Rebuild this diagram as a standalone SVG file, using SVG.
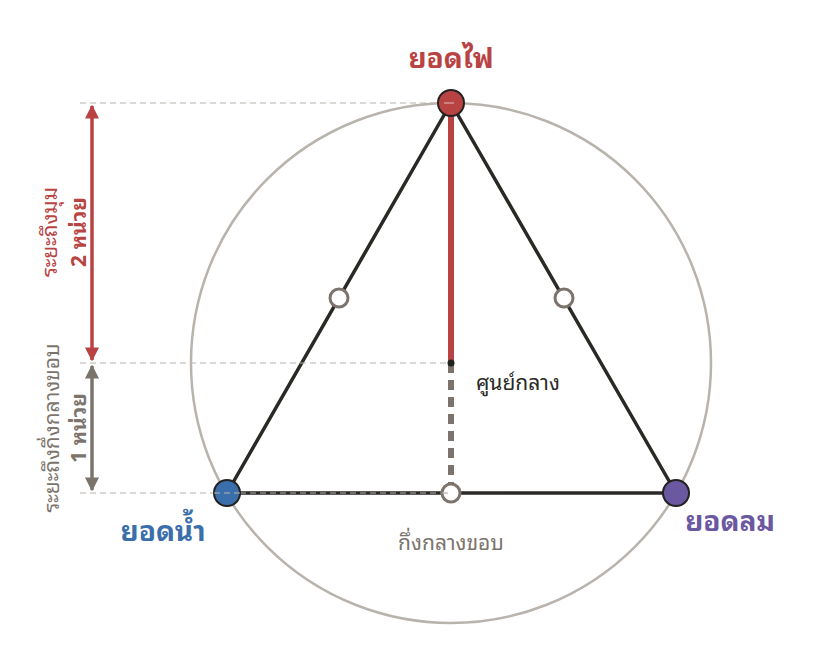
<svg xmlns="http://www.w3.org/2000/svg" width="813" height="655" viewBox="0 0 813 655">
<style>
text{font-family:"Noto Sans Thai Looped","Loma","Garuda","Noto Sans","DejaVu Sans",sans-serif}
.guide{stroke:#b8b3ad;stroke-width:1.2;stroke-dasharray:6 4;fill:none}
.edge{stroke:#2b2926;stroke-width:3.5;fill:none;stroke-linecap:round}
.mid{fill:#fff;stroke:#7c746c;stroke-width:3}
.vtx{stroke:#242220;stroke-width:2}
.lbl{font-weight:bold;font-size:28px;text-anchor:middle}
</style>
<defs>
<marker id="ar" viewBox="0 0 10 10" refX="9" refY="5" markerWidth="4" markerHeight="4" orient="auto-start-reverse"><path d="M0,0L10,5L0,10z" fill="#b94343"/></marker>
<marker id="ag" viewBox="0 0 10 10" refX="9" refY="5" markerWidth="4" markerHeight="4" orient="auto-start-reverse"><path d="M0,0L10,5L0,10z" fill="#7c746c"/></marker>
</defs>
<rect width="813" height="655" fill="#fff"/>
<g id="circle"><circle cx="451" cy="363" r="260" fill="none" stroke="#b8b3ad" stroke-width="2.5"/></g>
<g id="connectors">
<line class="edge" x1="451" y1="103" x2="227" y2="493"/>
<line class="edge" x1="451" y1="103" x2="676" y2="493"/>
<line class="edge" x1="227" y1="493" x2="676" y2="493"/>
<line x1="451" y1="103" x2="451" y2="363" stroke="#b94343" stroke-width="6"/>
<line x1="451" y1="363" x2="451" y2="487" stroke="#7c746c" stroke-width="6" stroke-dasharray="10 7"/>
<line class="guide" x1="80" y1="103" x2="451" y2="103"/>
<line class="guide" x1="80" y1="363" x2="451" y2="363"/>
<line class="guide" x1="80" y1="493" x2="451" y2="493"/>
<line x1="92" y1="106" x2="92" y2="360" stroke="#b94343" stroke-width="3.5" marker-start="url(#ar)" marker-end="url(#ar)"/>
<line x1="92" y1="366" x2="92" y2="490" stroke="#7c746c" stroke-width="3.5" marker-start="url(#ag)" marker-end="url(#ag)"/>
</g>
<g id="mid-left"><circle class="mid" cx="339" cy="298" r="9"/></g>
<g id="mid-right"><circle class="mid" cx="564" cy="298" r="9"/></g>
<g id="mid-bottom"><circle class="mid" cx="451" cy="493" r="9"/><line class="guide" x1="442" y1="493" x2="451" y2="493"/></g>
<g id="center"><circle cx="451" cy="363" r="3.5" fill="#242220"/>
<text x="476" y="390" font-size="21" fill="#2b2926">ศูนย์กลาง</text></g>
<g id="fire"><circle class="vtx" cx="451" cy="103" r="13" fill="#b94343"/><line x1="444" y1="103" x2="454" y2="103" stroke="#e0c0c0" stroke-width="1"/>
<text class="lbl" x="451" y="68" fill="#b94343">ยอดไฟ</text></g>
<g id="water"><circle class="vtx" cx="227" cy="493" r="13" fill="#3a6fab"/><line class="guide" x1="214" y1="493" x2="240" y2="493" stroke="#c8d4e4"/>
<text class="lbl" x="163" y="541" fill="#3a6fab">ยอดน้ำ</text></g>
<g id="wind"><circle class="vtx" cx="676" cy="493" r="13" fill="#6a58a0"/>
<text class="lbl" x="730" y="531" fill="#6a58a0">ยอดลม</text></g>
<g id="edge-mid-label"><text x="451" y="550" font-size="21" fill="#7c746c" text-anchor="middle">กึ่งกลางขอบ</text></g>
<g id="dim-labels">
<text transform="translate(57,232) rotate(-90)" font-size="21" fill="#b94343" text-anchor="middle">ระยะถึงมุม</text>
<text transform="translate(86,232) rotate(-90)" font-size="21" font-weight="bold" fill="#b94343" text-anchor="middle">2 หน่วย</text>
<text transform="translate(59,428) rotate(-90)" font-size="21" fill="#7c746c" text-anchor="middle">ระยะถึงกึ่งกลางขอบ</text>
<text transform="translate(86,428) rotate(-90)" font-size="21" font-weight="bold" fill="#7c746c" text-anchor="middle">1 หน่วย</text>
</g>
</svg>
